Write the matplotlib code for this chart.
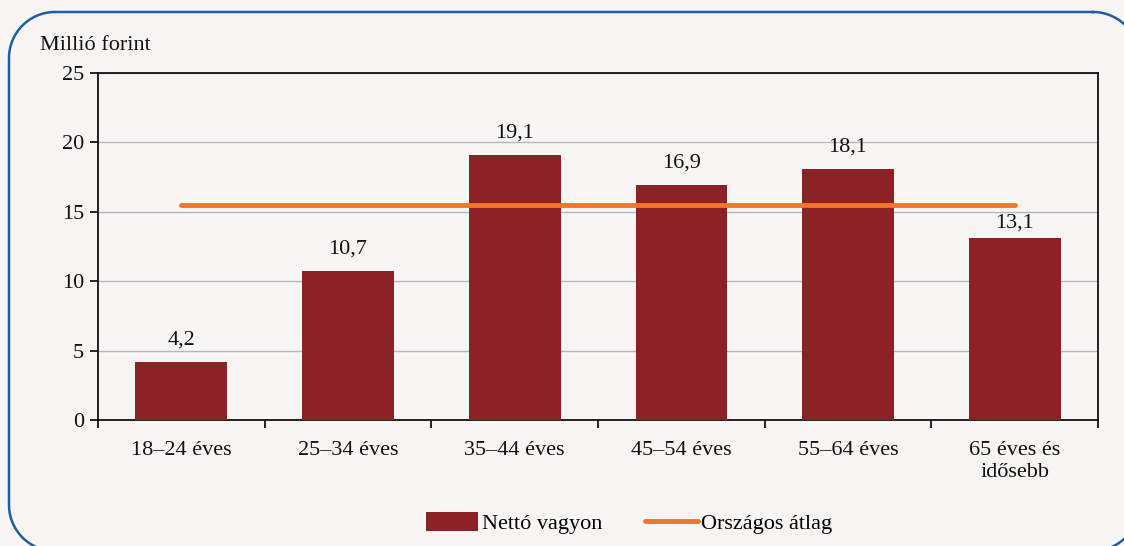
import matplotlib.pyplot as plt
from matplotlib.lines import Line2D
import numpy as np

categories = ['18–24 éves', '25–34 éves', '35–44 éves', '45–54 éves',
              '55–64 éves', '65 éves és\nidősebb']
netto_vagyon = [4.2, 10.7, 19.1, 16.9, 18.1, 13.1]
orszagos_atlag = [15.5, 15.5, 15.5, 15.5, 15.5, 15.5]
yticks = [0, 5, 10, 15, 20, 25]

bg = '#f7f6f4'
bar_color = '#8b2226'
line_color = '#f47526'

plt.rcParams['font.family'] = ['Liberation Serif', 'DejaVu Serif']
plt.rcParams['font.size'] = 16

W, H = 1124, 546
fig = plt.figure(figsize=(W / 100, H / 100), dpi=100, facecolor=bg)


def rounded_frame(left, top, right, bottom, r, n=30):
    # outline of a rounded box in pixel coords (y down), corner by corner
    pts = []
    corners = [(right - r, top + r, -90, 0), (right - r, bottom - r, 0, 90),
               (left + r, bottom - r, 90, 180), (left + r, top + r, 180, 270)]
    for cx, cy, a0, a1 in corners:
        t = np.radians(np.linspace(a0, a1, n))
        pts += list(zip(cx + r * np.cos(t), cy + r * np.sin(t)))
    pts.append(pts[0])
    xs = np.array([p[0] for p in pts]) / W
    ys = 1 - np.array([p[1] for p in pts]) / H
    return xs, ys


fx, fy = rounded_frame(9, 12, 1139, 551, 46)
fig.add_artist(Line2D(fx, fy, transform=fig.transFigure, color='#1f5fa0',
                      linewidth=1.8))

ax = fig.add_axes([98 / W, 1 - 420 / H, 1000 / W, 347 / H])
ax.set_facecolor(bg)

x = np.arange(len(categories))
bars = ax.bar(x, netto_vagyon, width=0.55, color=bar_color, zorder=3,
              label='Nettó vagyon')
line, = ax.plot(x, orszagos_atlag, color=line_color, linewidth=3.5,
                solid_capstyle='round', zorder=4, label='Országos átlag')

# last label sits a bit lower so it clears the average line
label_offsets = [9, 9, 9, 9, 9, 4]
for xi, v, off in zip(x, netto_vagyon, label_offsets):
    ax.annotate(f'{v:.1f}'.replace('.', ','), (xi, v), xytext=(0, off),
                textcoords='offset points', ha='center', va='bottom',
                color='#111111', zorder=5)

ax.set_xlim(-0.5, len(categories) - 0.5)
ax.set_ylim(0, 25)
ax.set_yticks(yticks)
ax.yaxis.grid(True, color='#b4b6b9', linewidth=1, zorder=0)

ax.set_xticks(x)
ax.set_xticklabels(categories, color='#111111')
ax.set_xticks(np.arange(len(categories) + 1) - 0.5, minor=True)
ax.tick_params(axis='x', which='major', length=0, pad=15)
ax.tick_params(axis='x', which='minor', length=6, direction='out', width=1.2)
ax.tick_params(axis='y', length=6, direction='out', width=1.2, pad=4,
               labelcolor='#111111')

for s in ax.spines.values():
    s.set_color('#111111')
    s.set_linewidth(1.3)

fig.text(40 / W, 1 - 46 / H, 'Millió forint', ha='left', va='center',
         color='#111111')

fig.legend([bars, line], ['Nettó vagyon', 'Országos átlag'], loc='center',
           bbox_to_anchor=(629 / W, 1 - 523 / H), ncol=2, frameon=False,
           handlelength=2.35, handleheight=0.9, columnspacing=1.95,
           handletextpad=0.15)

fig.savefig('out.png', dpi=100, facecolor=bg)
